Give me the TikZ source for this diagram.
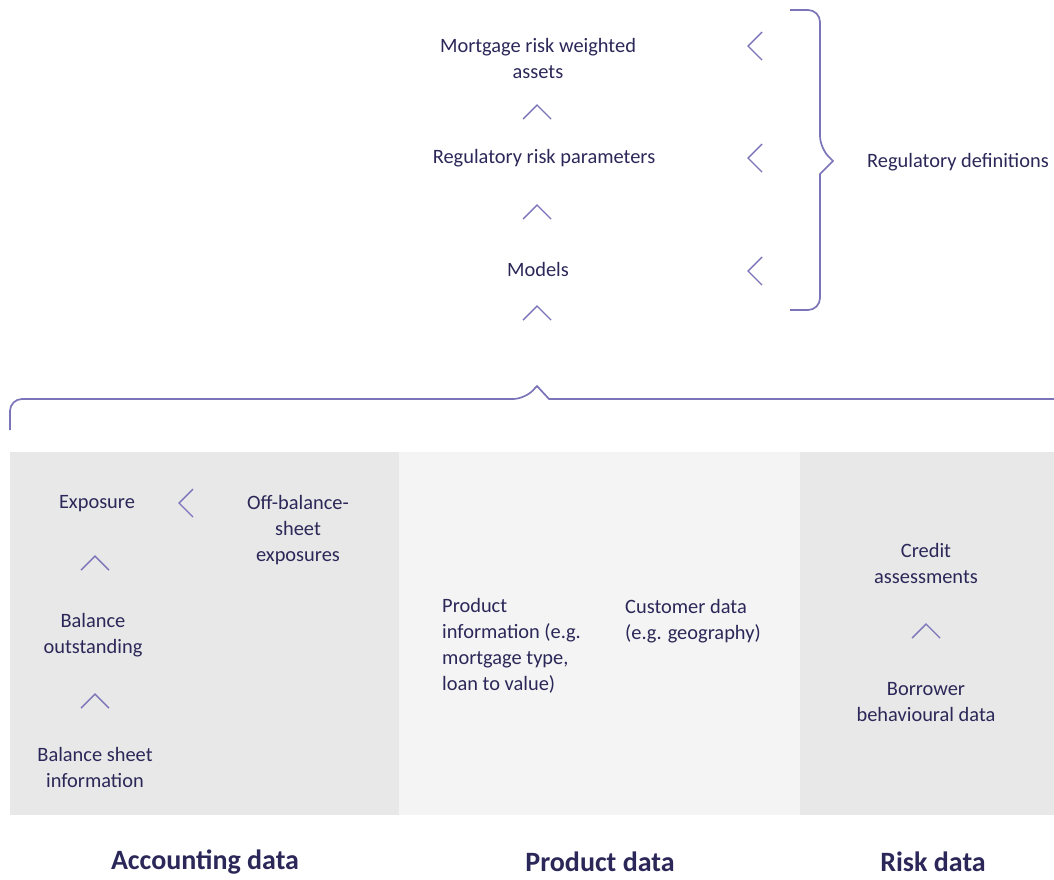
\documentclass[tikz,border=0pt]{standalone}
\usepackage{fontspec}
\setmainfont{Carlito}
\usetikzlibrary{positioning}
\definecolor{ink}{HTML}{2B2758}
\definecolor{lilac}{HTML}{7B74B8}
\definecolor{panelA}{HTML}{E8E8E8}
\definecolor{panelB}{HTML}{F4F4F4}

\begin{document}
\begin{tikzpicture}[x=1pt,y=-1pt,txt/.style={text=ink,font=\fontsize{20.4}{26}\selectfont,align=center,inner sep=0pt},head/.style={text=ink,font=\fontsize{28}{30}\selectfont\bfseries,inner sep=0pt},chev/.style={draw=lilac,line width=1.4pt},brace/.style={draw=lilac,line width=1.7pt,rounded corners=12pt},chevup/.pic={\draw[chev] (-14,7) -- (0,-7) -- (14,7);},chevleft/.pic={\draw[chev] (7,-14) -- (-7,0) -- (7,14);}]
\useasboundingbox (0,0) rectangle (1054,879);

% panels
\fill[panelA] (10,452) rectangle (399,815);
\fill[panelB] (399,452) rectangle (800,815);
\fill[panelA] (800,452) rectangle (1054,815);

% regulatory stack
\node[txt] (rwa) at (538,58) {Mortgage risk weighted\\assets};
\node[txt] (param) at (544,158) {Regulatory risk parameters};
\node[txt] (models) at (538,269) {Models};
\node[txt,anchor=west] (regdef) at (867,162) {Regulatory definitions};

\pic at (537,112) {chevup};
\pic at (537,212) {chevup};
\pic at (537,313) {chevup};
\pic at (755,46) {chevleft};
\pic at (755,158) {chevleft};
\pic at (755,271) {chevleft};

\draw[brace] (790,10) -- (820,10) -- (820,148) [sharp corners] -- (833,161) -- (820,174) [rounded corners=12pt] -- (820,310) -- (790,310);
\draw[brace] (10,430) -- (10,399) -- (525,399) [sharp corners] -- (537,386) -- (549,399) -- (1054,399);

% accounting data
\node[txt] (expo) at (97,504) {Exposure};
\node[txt] (offbs) at (298,530) {Off-balance-\\sheet\\exposures};
\node[txt] (outst) at (93,635) {Balance\\outstanding};
\node[txt] (bsinfo) at (95,767) {Balance sheet\\information};
\pic at (186,503) {chevleft};
\pic at (95,563) {chevup};
\pic at (95,701) {chevup};

% product data
\node[txt,align=left,anchor=west] (prodinfo) at (442,646) {Product\\information (e.g.\\mortgage type,\\loan to value)};
\node[txt,align=left,anchor=west] (custdata) at (625,621) {Customer data\\(e.g. geography)};

% risk data
\node[txt] (credit) at (926,563) {Credit\\assessments};
\node[txt] (borrower) at (926,702) {Borrower\\behavioural data};
\pic at (926,631) {chevup};

\node[head] (acc) at (205,862) {Accounting data};
\node[head] (prod) at (600,862) {Product data};
\node[head] (risk) at (933,862) {Risk data};

\end{tikzpicture}
\end{document}
